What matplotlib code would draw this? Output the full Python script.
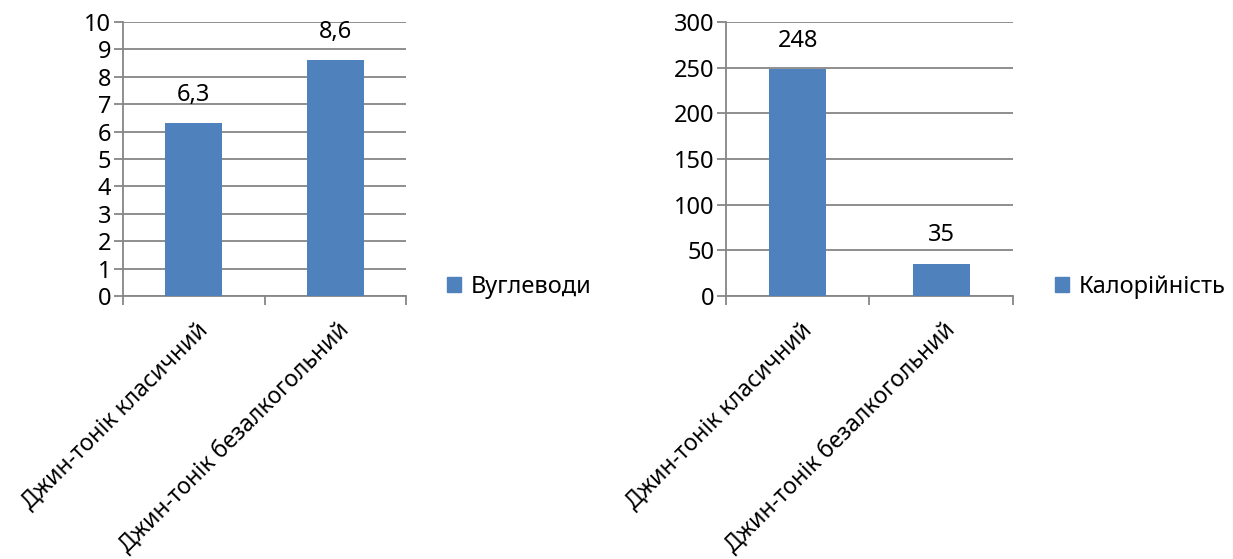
import matplotlib
matplotlib.use("Agg")
import matplotlib.pyplot as plt
from matplotlib.patches import Patch

plt.rcParams['font.family'] = ['Noto Sans', 'DejaVu Sans']

categories = ["Джин-тонік класичний", "Джин-тонік безалкогольний"]
carbs = [6.3, 8.6]
calories = [248, 35]
carbs_labels = ["6,3", "8,6"]
calories_labels = ["248", "35"]

BAR = "#4F81BD"
GRID = "#868686"
W, H = 1233, 559
FS = 17

fig = plt.figure(figsize=(W / 100, H / 100), dpi=100)


def panel(left_px, right_px, values, labels, ymax, ystep, series, legend_x_px):
    top_px, bottom_px = 22, 296
    ax = fig.add_axes([left_px / W, (H - bottom_px) / H,
                       (right_px - left_px) / W, (bottom_px - top_px) / H])
    xs = list(range(len(values)))
    ax.bar(xs, values, width=0.4, color=BAR, zorder=3)
    ax.set_xlim(-0.5, len(values) - 0.5)
    ax.set_ylim(0, ymax)
    ax.set_yticks(range(0, ymax + 1, ystep))
    ax.yaxis.grid(True, color=GRID, linewidth=1.3, zorder=0)
    for side in ("top", "right"):
        ax.spines[side].set_visible(False)
    for side in ("left", "bottom"):
        ax.spines[side].set_color(GRID)
        ax.spines[side].set_linewidth(1.3)
    ax.tick_params(axis="y", length=6.5, width=1.3, color=GRID,
                   labelsize=FS, pad=2)
    # category boundaries carry the tick marks
    ax.set_xticks([i - 0.5 for i in range(len(values) + 1)])
    ax.set_xticklabels([])
    ax.tick_params(axis="x", length=6.5, width=1.3, color=GRID)
    for x, v, t in zip(xs, values, labels):
        ax.annotate(t, (x, v), xytext=(0, 12), textcoords="offset points",
                    ha="center", va="bottom", fontsize=FS)
    for x, c in zip(xs, categories):
        ax.annotate(c, (x, 0), xytext=(2, -16), textcoords="offset points",
                    ha="right", va="top", rotation=45,
                    rotation_mode="anchor", fontsize=16.5,
                    annotation_clip=False)
    lx = (legend_x_px - left_px) / (right_px - left_px)
    ax.legend(handles=[Patch(color=BAR, label=series)], loc="center left",
              bbox_to_anchor=(lx, (296 - 287) / (bottom_px - top_px)),
              frameon=False, fontsize=FS, handlelength=0.6,
              handleheight=0.6, handletextpad=0.4, borderpad=0,
              borderaxespad=0)
    return ax


panel(123, 406, carbs, carbs_labels, 10, 1, "Вуглеводи", 447)
panel(726, 1013, calories, calories_labels, 300, 50, "Калорійність", 1055)

fig.savefig("out.png", dpi=100)
